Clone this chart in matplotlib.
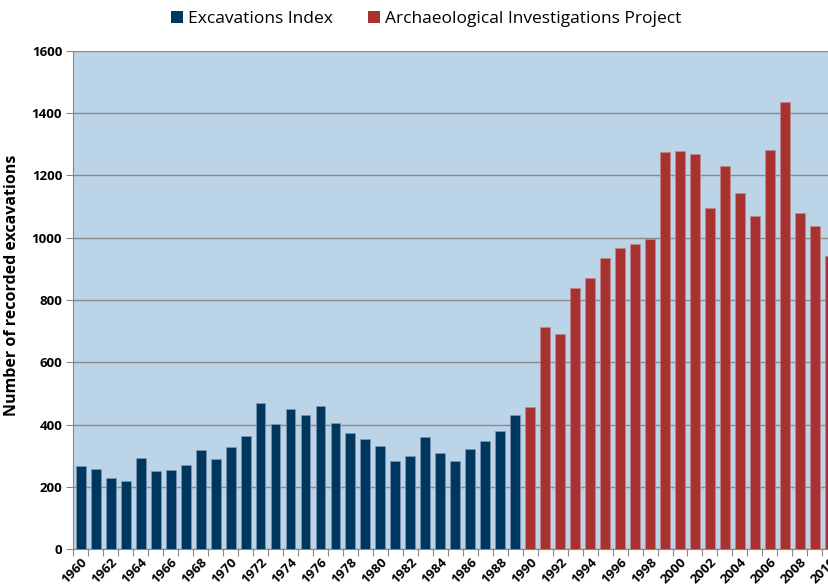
import matplotlib
matplotlib.use("Agg")
import matplotlib.pyplot as plt
from matplotlib.patches import Patch
import numpy as np

plt.rcParams['font.family'] = ['Liberation Sans Narrow', 'Open Sans', 'DejaVu Sans']

years_ei = list(range(1960, 1990))
values_ei = [266, 257, 227, 219, 291, 252, 255, 269, 318, 289,
             327, 364, 469, 403, 449, 431, 460, 405, 373, 352,
             332, 284, 298, 361, 307, 284, 321, 347, 379, 431]
years_aip = list(range(1990, 2011))
values_aip = [457, 712, 690, 840, 872, 936, 968, 980, 997, 1275,
              1278, 1269, 1096, 1232, 1144, 1069, 1281, 1437, 1079, 1037, 942]

series_labels = ["Excavations Index", "Archaeological Investigations Project"]
colors = ["#00375E", "#A8322F"]
bg = "#BCD4E8"

all_years = years_ei + years_aip
pos = {y: i for i, y in enumerate(all_years)}

fig = plt.figure(figsize=(8.29, 5.88), dpi=100)
ax = fig.add_axes([73.3/829, 39/588, 764/829, 498/588])
ax.set_facecolor(bg)

ax.bar([pos[y] for y in years_ei], values_ei, width=0.66, color=colors[0],
       edgecolor="#7f99b3", linewidth=0.5, zorder=3)
ax.bar([pos[y] for y in years_aip], values_aip, width=0.66, color=colors[1],
       edgecolor="#c08a8a", linewidth=0.5, zorder=3)

ax.set_xlim(-0.5, len(all_years) - 0.5)
ax.set_ylim(0, 1600)
ax.set_yticks(np.arange(0, 1601, 200))
ax.yaxis.grid(True, color="#8a8a8a", linewidth=1.0, zorder=1)
ax.set_axisbelow(True)

# category boundary ticks
ax.set_xticks(np.arange(-0.5, len(all_years), 1.0))
ax.set_xticklabels([])
ax.tick_params(axis='x', which='major', length=5, color="#888888", direction='out')
ax.set_xticks([pos[y] for y in all_years[::2]], minor=True)
ax.set_xticklabels([str(y) for y in all_years[::2]], minor=True,
                   rotation=45, ha='right', rotation_mode='anchor',
                   fontsize=9.5, fontweight='bold')
ax.tick_params(axis='x', which='minor', length=0, pad=5)

ax.tick_params(axis='y', length=5, color="#888888", labelsize=9.5, pad=3)
for lab in ax.get_yticklabels():
    lab.set_fontweight('bold')

for s in ['top', 'right']:
    ax.spines[s].set_visible(False)
for s in ['left', 'bottom']:
    ax.spines[s].set_color("#888888")

ax.set_ylabel("Number of recorded excavations", fontsize=11.5, fontweight='bold')
ax.yaxis.set_label_coords(-0.0698, 0.53)

handles = [Patch(facecolor=colors[0]), Patch(facecolor=colors[1])]
fig.legend(handles, series_labels, loc='center', bbox_to_anchor=(0.514, 0.967),
           ncol=2, frameon=False, fontsize=12.5, handlelength=0.7, handleheight=0.7,
           handletextpad=0.3, columnspacing=2.0)

fig.savefig("out.png", dpi=100)
